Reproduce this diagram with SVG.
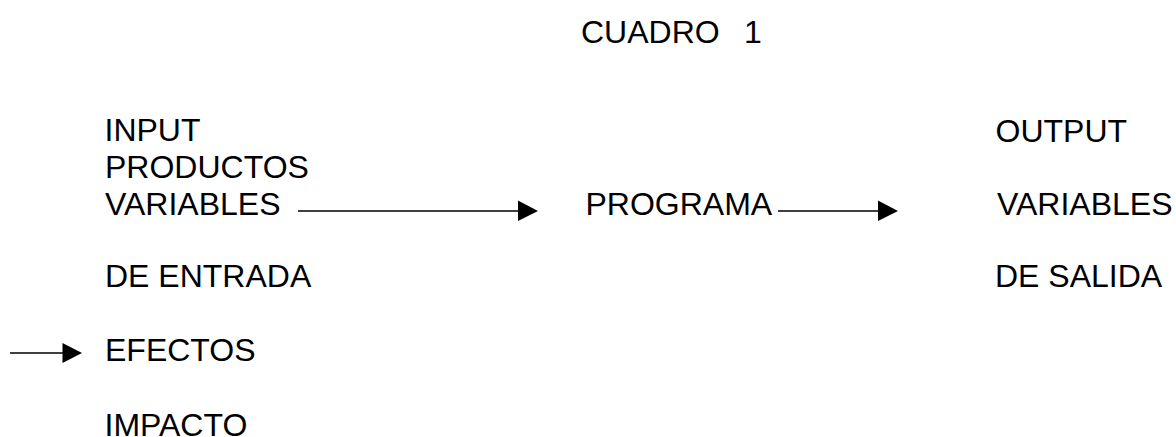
<svg xmlns="http://www.w3.org/2000/svg" width="1176" height="437" viewBox="0 0 1176 437">
  <style>
    text { font-family: "Liberation Sans", Arial, sans-serif; font-size: 32px; fill: #000; }
    .conn { stroke: #000; stroke-width: 1.6; fill: none; }
    .head { fill: #000; }
  </style>
  <rect width="1176" height="437" fill="#fff"/>

  <g id="title">
    <text x="581" y="43">CUADRO</text>
    <text x="744" y="43">1</text>
  </g>

  <g id="input">
    <text x="104.5" y="141">INPUT</text>
    <text x="105" y="178">PRODUCTOS</text>
    <text x="105" y="215">VARIABLES</text>
    <text x="105" y="287">DE ENTRADA</text>
  </g>

  <g id="programa">
    <text x="585.5" y="215">PROGRAMA</text>
  </g>

  <g id="output">
    <text x="995.5" y="141.5">OUTPUT</text>
    <text x="997" y="215">VARIABLES</text>
    <text x="995" y="287">DE SALIDA</text>
  </g>

  <g id="efectos">
    <text x="105" y="361">EFECTOS</text>
  </g>

  <g id="impacto">
    <text x="104.5" y="435.5">IMPACTO</text>
  </g>

  <g id="connectors">
    <line class="conn" x1="298" y1="211" x2="519" y2="211"/>
    <polygon class="head" points="518,200.5 538,211 518,221"/>
    <line class="conn" x1="778" y1="211" x2="879" y2="211"/>
    <polygon class="head" points="878,200.5 898,211 878,221"/>
    <line class="conn" x1="10" y1="353" x2="63" y2="353"/>
    <polygon class="head" points="62.5,343 82,353 62.5,363"/>
  </g>
</svg>
